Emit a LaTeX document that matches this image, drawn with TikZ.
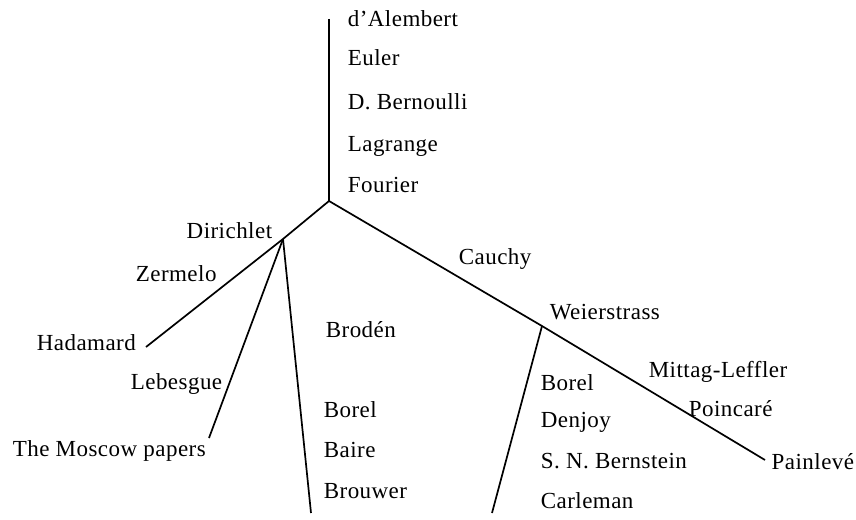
\documentclass[tikz,border=0pt]{standalone}
\usepackage{fontspec}
\setmainfont[LetterSpace=2]{Liberation Serif}
\begin{document}
\begin{tikzpicture}[x=1pt,y=-1pt,line width=1.7pt,
  person/.style={anchor=base west,inner sep=0pt,font=\fontsize{23}{27}\selectfont}]
\useasboundingbox (0,0) rectangle (856,519);
\coordinate (top) at (329,19);
\coordinate (root) at (329,201);
\coordinate (dir) at (283,239);
\coordinate (wei) at (542,326);
\coordinate (had) at (146,347);
\coordinate (mos) at (209,438);
\coordinate (bro) at (311,513);
\coordinate (pai) at (765,460);
\coordinate (car) at (492,513);

\draw (top) -- (root);
\draw (root) -- (dir) -- (had);
\draw (root) -- (wei) -- (pai);
\draw (dir) -- (mos);
\draw (dir) -- (bro);
\draw (wei) -- (car);

\node [person] (alembert) at (347,27) {d'Alembert};
\node [person] (euler) at (347,66) {Euler};
\node [person] (bernoulli) at (347,109) {D. Bernoulli};
\node [person] (lagrange) at (347,151) {Lagrange};
\node [person] (fourier) at (347,192) {Fourier};
\node [person,anchor=base east] (dirichlet) at (273,238) {Dirichlet};
\node [person] (zermelo) at (135,281) {Zermelo};
\node [person] (cauchy) at (458,264) {Cauchy};
\node [person] (hadamard) at (36,350) {Hadamard};
\node [person] (broden) at (325,337) {Brodén};
\node [person] (weierstrass) at (549,319) {Weierstrass};
\node [person] (lebesgue) at (130,389) {Lebesgue};
\node [person] (mittag) at (648,377) {Mittag-Leffler};
\node [person] (borelA) at (323,417) {Borel};
\node [person] (borelB) at (540,390) {Borel};
\node [person] (denjoy) at (540,427) {Denjoy};
\node [person] (poincare) at (688,416) {Poincaré};
\node [person] (moscow) at (12,456) {The Moscow papers};
\node [person] (baire) at (323,457) {Baire};
\node [person] (bernstein) at (540,468) {S. N. Bernstein};
\node [person,anchor=base east] (painleve) at (855,469) {Painlevé};
\node [person] (brouwer) at (323,498) {Brouwer};
\node [person] (carleman) at (540,508) {Carleman};
\end{tikzpicture}
\end{document}
